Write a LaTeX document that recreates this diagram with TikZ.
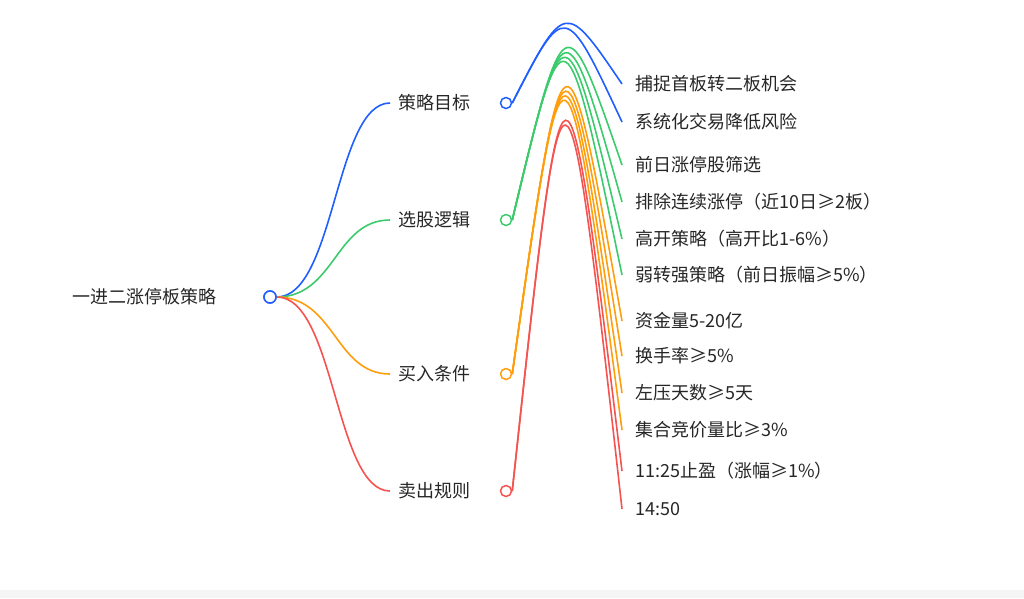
\documentclass[tikz,border=0pt]{standalone}
\usepackage{fontspec}
\setmainfont{Noto Sans CJK SC}
\definecolor{cb}{HTML}{1F5EFF}
\definecolor{cg}{HTML}{3CCB6C}
\definecolor{co}{HTML}{FF9E0D}
\definecolor{cr}{HTML}{F5534F}
\tikzset{lbl/.style={anchor=west,inner sep=0pt,font=\fontsize{18}{20}\selectfont,text=black!85},
 dot/.style={circle,draw,line width=1.5pt,fill=white,minimum size=12pt,inner sep=0pt},
 br/.style={line width=1.6pt}}
\begin{document}
\begin{tikzpicture}[x=1pt,y=-1pt]
\useasboundingbox (0,0) rectangle (1024,598);
\fill[black!4] (0,590) rectangle (1024,598);
\node[lbl] (root) at (72,297) {一进二涨停板策略};
\node[dot,draw=cb] (r) at (270,297) {};
\foreach \n/\y/\c/\t in {a/103/cb/策略目标,b/220/cg/选股逻辑,c/374/co/买入条件,d/491/cr/卖出规则}{
  \node[lbl] (t\n) at (398,\y) {\t};
  \coordinate (e\n) at (390,\y);
  \draw[br,\c] (r.east) .. controls (335,297) and (335,\y) .. (e\n);
  \node[dot,draw=\c,minimum size=11pt] (\n) at (506,\y) {};
}
\node[dot,draw=cb] (r2) at (270,297) {};
\foreach \p/\c/\y/\t in {
 a/cb/84/捕捉首板转二板机会, a/cb/122/系统化交易降低风险,
 b/cg/165/前日涨停股筛选, b/cg/202/排除连续涨停（近10日≥2板）, b/cg/239/高开策略（高开比1-6\%）, b/cg/275/弱转强策略（前日振幅≥5\%）,
 c/co/321/资金量5-20亿, c/co/356/换手率≥5\%, c/co/393/左压天数≥5天, c/co/430/集合竞价量比≥3\%,
 d/cr/471/11:25止盈（涨幅≥1\%）, d/cr/509/14:50}{
  \node[lbl] (L\y) at (635,\y) {\t};
  \coordinate (f\y) at (622,\y);
  \draw[br,\c] (\p.east) .. controls (565,{(\y+0)*0+0}) .. (f\y) ;
}
\end{tikzpicture}
\end{document}
